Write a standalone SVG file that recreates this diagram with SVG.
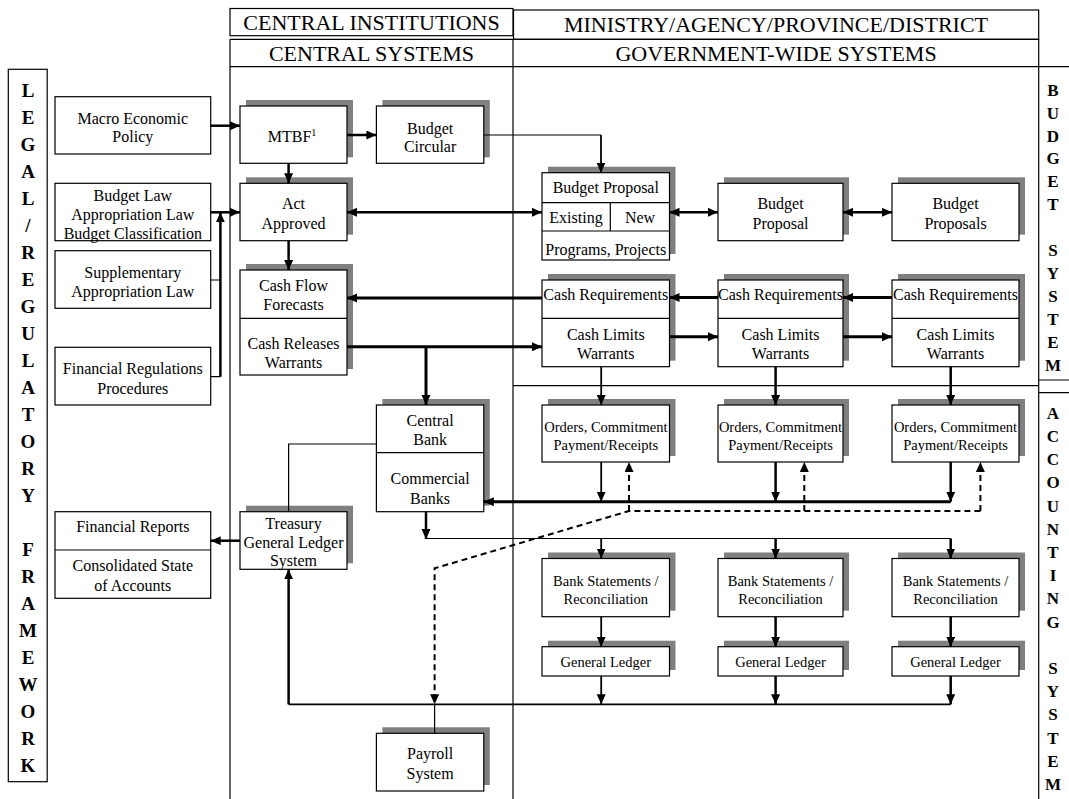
<svg xmlns="http://www.w3.org/2000/svg" width="1069" height="799" viewBox="0 0 1069 799">
<defs>
<style>
.bx{fill:#fff;stroke:#000;stroke-width:1.2}
.sh{fill:#808080}
.ln{fill:none;stroke:#000;stroke-width:1.2}
.t{font-family:"Liberation Serif","Times New Roman",serif;font-size:16px;text-anchor:middle;fill:#000}
.s{font-size:14.5px}
.h{font-size:22px}
.v{font-weight:bold;font-size:19px}
.r{font-weight:bold;font-size:17px}
.c{fill:none;stroke:#000}
.k{stroke-width:2.5}
.kk{stroke-width:3}
.m{stroke-width:1.8}
.n{stroke-width:1.2}
.d{stroke-width:2;stroke-dasharray:6 4}
</style>
<marker id="ah" markerUnits="userSpaceOnUse" markerWidth="11" markerHeight="10" viewBox="0 0 11 10" refX="10" refY="4.5" orient="auto-start-reverse"><path d="M0,0 L10,4.5 L0,9 z" fill="#000"/></marker>
</defs>
<rect width="1069" height="799" fill="#fff"/>

<g id="frame">
<rect class="bx" x="230" y="8.5" width="283" height="27.2"/>
<rect class="bx" x="513.5" y="10" width="525.2" height="29.3"/>
<path class="ln" d="M230 39.3 H1038.7 M230 66.7 H1069 M230 39.3 V799 M513 39.3 V799 M1038.7 39.3 V799 M513 385.7 H1038.7 M1038.7 380 H1069 M1038.7 392.7 H1069"/>
<text class="t h" x="371.5" y="30">CENTRAL INSTITUTIONS</text>
<text class="t h" x="371.5" y="60.5">CENTRAL SYSTEMS</text>
<text class="t h" x="776" y="32">MINISTRY/AGENCY/PROVINCE/DISTRICT</text>
<text class="t h" x="776" y="60.5">GOVERNMENT-WIDE SYSTEMS</text>
</g>

<g id="legal">
<rect class="bx" x="8.3" y="69.3" width="38.9" height="712.4"/>
<text class="t v" x="28"><tspan x="28" y="97.2">L</tspan><tspan x="28" y="124.2">E</tspan><tspan x="28" y="151.2">G</tspan><tspan x="28" y="178.2">A</tspan><tspan x="28" y="205.2">L</tspan><tspan x="28" y="232.2">/</tspan><tspan x="28" y="259.2">R</tspan><tspan x="28" y="286.2">E</tspan><tspan x="28" y="313.2">G</tspan><tspan x="28" y="340.2">U</tspan><tspan x="28" y="367.2">L</tspan><tspan x="28" y="394.2">A</tspan><tspan x="28" y="421.2">T</tspan><tspan x="28" y="448.2">O</tspan><tspan x="28" y="475.2">R</tspan><tspan x="28" y="502.2">Y</tspan><tspan x="28" y="556.2">F</tspan><tspan x="28" y="583.2">R</tspan><tspan x="28" y="610.2">A</tspan><tspan x="28" y="637.2">M</tspan><tspan x="28" y="664.2">E</tspan><tspan x="28" y="691.2">W</tspan><tspan x="28" y="718.2">O</tspan><tspan x="28" y="745.2">R</tspan><tspan x="28" y="772.2">K</tspan></text>
</g>

<g id="budget-system-label">
<text class="t r" x="1053"><tspan x="1053" y="95.7">B</tspan><tspan x="1053" y="118.6">U</tspan><tspan x="1053" y="141.5">D</tspan><tspan x="1053" y="164.4">G</tspan><tspan x="1053" y="187.3">E</tspan><tspan x="1053" y="210.2">T</tspan><tspan x="1053" y="256">S</tspan><tspan x="1053" y="278.9">Y</tspan><tspan x="1053" y="301.8">S</tspan><tspan x="1053" y="324.7">T</tspan><tspan x="1053" y="347.6">E</tspan><tspan x="1053" y="370.5">M</tspan></text>
</g>
<g id="accounting-system-label">
<text class="t r" x="1053"><tspan x="1053" y="418.7">A</tspan><tspan x="1053" y="441.9">C</tspan><tspan x="1053" y="465.1">C</tspan><tspan x="1053" y="488.3">O</tspan><tspan x="1053" y="511.5">U</tspan><tspan x="1053" y="534.7">N</tspan><tspan x="1053" y="557.9">T</tspan><tspan x="1053" y="581.1">I</tspan><tspan x="1053" y="604.3">N</tspan><tspan x="1053" y="627.5">G</tspan><tspan x="1053" y="673.9">S</tspan><tspan x="1053" y="697.1">Y</tspan><tspan x="1053" y="720.3">S</tspan><tspan x="1053" y="743.5">T</tspan><tspan x="1053" y="766.7">E</tspan><tspan x="1053" y="789.9">M</tspan></text>
</g>

<g id="macro"><rect class="bx" x="55" y="96.7" width="155.7" height="57.3"/><text class="t" x="132.8" y="123.8">Macro Economic</text><text class="t" x="132.8" y="142.2">Policy</text></g>
<g id="budget-law"><rect class="bx" x="55" y="183.3" width="155.7" height="57.4"/><text class="t" x="132.8" y="200.5">Budget Law</text><text class="t" x="132.8" y="219.8">Appropriation Law</text><text class="t" x="132.8" y="238.6">Budget Classification</text></g>
<g id="supplementary"><rect class="bx" x="55" y="250.7" width="155.7" height="57.6"/><text class="t" x="132.8" y="278">Supplementary</text><text class="t" x="132.8" y="296.5">Appropriation Law</text></g>
<g id="fin-regs"><rect class="bx" x="55" y="347.3" width="155.7" height="57.7"/><text class="t" x="132.8" y="373.8">Financial Regulations</text><text class="t" x="132.8" y="393.8">Procedures</text></g>
<g id="fin-reports"><rect class="bx" x="55" y="511.7" width="155.7" height="86.6"/><path class="ln" d="M55 550 H210.7"/><text class="t" x="132.8" y="532">Financial Reports</text><text class="t" x="132.8" y="571">Consolidated State</text><text class="t" x="132.8" y="590.5">of Accounts</text></g>

<g id="mtbf"><rect class="sh" x="246" y="100" width="107" height="57.3"/><rect class="bx" x="240" y="106" width="107" height="57.3"/><text class="t" x="292" y="141.5">MTBF<tspan font-size="10" dy="-6">1</tspan></text></g>
<g id="budget-circular"><rect class="sh" x="382.4" y="100" width="107.4" height="57.3"/><rect class="bx" x="376.4" y="106" width="107.4" height="57.3"/><text class="t" x="430.1" y="133.5">Budget</text><text class="t" x="430.1" y="151.7">Circular</text></g>
<g id="act-approved"><rect class="sh" x="246" y="177.3" width="107" height="57.4"/><rect class="bx" x="240" y="183.3" width="107" height="57.4"/><text class="t" x="293.5" y="209">Act</text><text class="t" x="293.5" y="228.5">Approved</text></g>
<g id="cash-central"><rect class="sh" x="246" y="264" width="107" height="105"/><rect class="bx" x="240" y="270" width="107" height="105"/><path class="ln" d="M240 318.3 H347"/><text class="t" x="293.5" y="291">Cash Flow</text><text class="t" x="293.5" y="310">Forecasts</text><text class="t" x="293.5" y="348.5">Cash Releases</text><text class="t" x="293.5" y="368">Warrants</text></g>
<g id="treasury-gl"><rect class="sh" x="246" y="505.7" width="107" height="57.6"/><rect class="bx" x="240" y="511.7" width="107" height="57.6"/><text class="t" x="293.5" y="528.5">Treasury</text><text class="t" x="293.5" y="547.5">General Ledger</text><text class="t" x="293.5" y="566">System</text></g>
<g id="banks"><rect class="sh" x="382.4" y="399" width="107.4" height="106.7"/><rect class="bx" x="376.4" y="405" width="107.4" height="106.7"/><path class="ln" d="M376.4 452.7 H483.8"/><text class="t" x="430.1" y="425.7">Central</text><text class="t" x="430.1" y="445">Bank</text><text class="t" x="430.1" y="484">Commercial</text><text class="t" x="430.1" y="503.5">Banks</text></g>
<g id="payroll"><rect class="sh" x="382.4" y="727.3" width="107.4" height="57.7"/><rect class="bx" x="376.4" y="733.3" width="107.4" height="57.7"/><text class="t" x="430.1" y="759">Payroll</text><text class="t" x="430.1" y="779">System</text></g>

<g id="bp-group"><rect class="sh" x="548" y="166.7" width="127.5" height="87.3"/><rect class="bx" x="542" y="172.7" width="127.5" height="87.3"/><path class="ln" d="M542 202.7 H669.5 M542 231 H669.5 M610.3 202.7 V231"/><text class="t" x="605.8" y="192.5">Budget Proposal</text><text class="t" x="576" y="223">Existing</text><text class="t" x="640" y="223">New</text><text class="t" x="605.8" y="254.5">Programs, Projects</text></g>
<g id="bp2"><rect class="sh" x="724" y="177.3" width="125" height="57.4"/><rect class="bx" x="718" y="183.3" width="125" height="57.4"/><text class="t" x="780.5" y="209">Budget</text><text class="t" x="780.5" y="228.5">Proposal</text></g>
<g id="bp3"><rect class="sh" x="898" y="177.3" width="127" height="57.4"/><rect class="bx" x="892" y="183.3" width="127" height="57.4"/><text class="t" x="955.5" y="209">Budget</text><text class="t" x="955.5" y="228.5">Proposals</text></g>

<g id="cash1"><rect class="sh" x="548" y="274" width="127.5" height="86.7"/><rect class="bx" x="542" y="280" width="127.5" height="86.7"/><path class="ln" d="M542 318.3 H669.5"/><text class="t" x="605.8" y="300">Cash Requirements</text><text class="t" x="605.8" y="340">Cash Limits</text><text class="t" x="605.8" y="358.5">Warrants</text></g>
<g id="cash2"><rect class="sh" x="724" y="274" width="125" height="86.7"/><rect class="bx" x="718" y="280" width="125" height="86.7"/><path class="ln" d="M718 318.3 H843"/><text class="t" x="780.5" y="300">Cash Requirements</text><text class="t" x="780.5" y="340">Cash Limits</text><text class="t" x="780.5" y="358.5">Warrants</text></g>
<g id="cash3"><rect class="sh" x="898" y="274" width="127" height="86.7"/><rect class="bx" x="892" y="280" width="127" height="86.7"/><path class="ln" d="M892 318.3 H1019"/><text class="t" x="955.5" y="300">Cash Requirements</text><text class="t" x="955.5" y="340">Cash Limits</text><text class="t" x="955.5" y="358.5">Warrants</text></g>

<g id="orders1"><rect class="sh" x="548" y="399" width="127.5" height="57"/><rect class="bx" x="542" y="405" width="127.5" height="57"/><text class="t s" x="605.8" y="431.5">Orders, Commitment</text><text class="t s" x="605.8" y="450">Payment/Receipts</text></g>
<g id="orders2"><rect class="sh" x="724" y="399" width="125" height="57"/><rect class="bx" x="718" y="405" width="125" height="57"/><text class="t s" x="780.5" y="431.5">Orders, Commitment</text><text class="t s" x="780.5" y="450">Payment/Receipts</text></g>
<g id="orders3"><rect class="sh" x="898" y="399" width="127" height="57"/><rect class="bx" x="892" y="405" width="127" height="57"/><text class="t s" x="955.5" y="431.5">Orders, Commitment</text><text class="t s" x="955.5" y="450">Payment/Receipts</text></g>

<g id="bank1"><rect class="sh" x="548" y="552.5" width="127.5" height="58.2"/><rect class="bx" x="542" y="558.5" width="127.5" height="58.2"/><text class="t s" x="605.8" y="585.5">Bank Statements /</text><text class="t s" x="605.8" y="604">Reconciliation</text></g>
<g id="bank2"><rect class="sh" x="724" y="552.5" width="125" height="58.2"/><rect class="bx" x="718" y="558.5" width="125" height="58.2"/><text class="t s" x="780.5" y="585.5">Bank Statements /</text><text class="t s" x="780.5" y="604">Reconciliation</text></g>
<g id="bank3"><rect class="sh" x="898" y="552.5" width="127" height="58.2"/><rect class="bx" x="892" y="558.5" width="127" height="58.2"/><text class="t s" x="955.5" y="585.5">Bank Statements /</text><text class="t s" x="955.5" y="604">Reconciliation</text></g>

<g id="gl1"><rect class="sh" x="548" y="640.7" width="127.5" height="29.3"/><rect class="bx" x="542" y="646.7" width="127.5" height="29.3"/><text class="t s" x="605.8" y="667">General Ledger</text></g>
<g id="gl2"><rect class="sh" x="724" y="640.7" width="125" height="29.3"/><rect class="bx" x="718" y="646.7" width="125" height="29.3"/><text class="t s" x="780.5" y="667">General Ledger</text></g>
<g id="gl3"><rect class="sh" x="898" y="640.7" width="127" height="29.3"/><rect class="bx" x="892" y="646.7" width="127" height="29.3"/><text class="t s" x="955.5" y="667">General Ledger</text></g>

<g id="connectors">
<path class="c k" d="M210.7 125.7 H240" marker-end="url(#ah)"/>
<path class="c k" d="M347 135 H376.4" marker-end="url(#ah)"/>
<path class="c k" d="M288.6 163.3 V183.3" marker-end="url(#ah)"/>
<path class="c n" d="M483.8 135 H601"/>
<path class="c m" d="M601 135 V172.7" marker-end="url(#ah)"/>
<path class="c k" d="M210.7 212.3 H240" marker-end="url(#ah)"/>
<path class="c k" d="M220.4 376.7 V212.3" marker-end="url(#ah)"/>
<path class="c n" d="M210.7 280 H220.4 M210.7 376.7 H220.4"/>
<path class="c k" d="M347 212.3 H542" marker-start="url(#ah)" marker-end="url(#ah)"/>
<path class="c k" d="M669.5 212.3 H718" marker-start="url(#ah)" marker-end="url(#ah)"/>
<path class="c k" d="M843 212.3 H892" marker-start="url(#ah)" marker-end="url(#ah)"/>
<path class="c k" d="M288.6 240.7 V270" marker-end="url(#ah)"/>
<path class="c kk" d="M542 298 H347" marker-end="url(#ah)"/>
<path class="c kk" d="M718 297.5 H669.5" marker-end="url(#ah)"/>
<path class="c kk" d="M892 297.5 H843" marker-end="url(#ah)"/>
<path class="c kk" d="M347 346.7 H542" marker-end="url(#ah)"/>
<path class="c kk" d="M426 346.7 V405" marker-end="url(#ah)"/>
<path class="c kk" d="M669.5 336.7 H718" marker-end="url(#ah)"/>
<path class="c kk" d="M843 336.7 H892" marker-end="url(#ah)"/>
<path class="c m" d="M601.2 366.7 V405" marker-end="url(#ah)"/>
<path class="c k" d="M775.6 366.7 V405" marker-end="url(#ah)"/>
<path class="c k" d="M950.7 366.7 V405" marker-end="url(#ah)"/>
<path class="c m" d="M601.2 462 V501.7" marker-end="url(#ah)"/>
<path class="c k" d="M775.6 462 V501.7" marker-end="url(#ah)"/>
<path class="c k" d="M950.7 462 V501.7" marker-end="url(#ah)"/>
<path class="c kk" d="M950.7 501.7 H483.8" marker-end="url(#ah)"/>
<path class="c d" d="M629 511 V462" marker-end="url(#ah)"/>
<path class="c d" d="M804.3 511 V462" marker-end="url(#ah)"/>
<path class="c d" d="M980.4 511 V462" marker-end="url(#ah)"/>
<path class="c d" d="M980.4 511 H629 L434.6 568.3 V704.3" marker-end="url(#ah)"/>
<path class="c k" d="M426 511.7 V539" marker-end="url(#ah)"/>
<path class="c n" d="M426 538.5 H950.7"/>
<path class="c m" d="M601.2 538.5 V558.5" marker-end="url(#ah)"/>
<path class="c k" d="M775.6 538.5 V558.5" marker-end="url(#ah)"/>
<path class="c k" d="M950.7 538.5 V558.5" marker-end="url(#ah)"/>
<path class="c m" d="M601.2 616.7 V646.7" marker-end="url(#ah)"/>
<path class="c k" d="M775.6 616.7 V646.7" marker-end="url(#ah)"/>
<path class="c k" d="M950.7 616.7 V646.7" marker-end="url(#ah)"/>
<path class="c m" d="M601.2 676 V704.3" marker-end="url(#ah)"/>
<path class="c k" d="M775.6 676 V704.3" marker-end="url(#ah)"/>
<path class="c k" d="M950.7 676 V704.3" marker-end="url(#ah)"/>
<path class="c m" d="M950.7 704.3 H288.6"/>
<path class="c k" d="M288.6 704.3 V569.3" marker-end="url(#ah)"/>
<path class="c n" d="M434.6 704.3 V733.3"/>
<path class="c n" d="M376.4 444 H288.6 V511.7"/>
<path class="c k" d="M240 540.7 H210.7" marker-end="url(#ah)"/>
</g>
</svg>
